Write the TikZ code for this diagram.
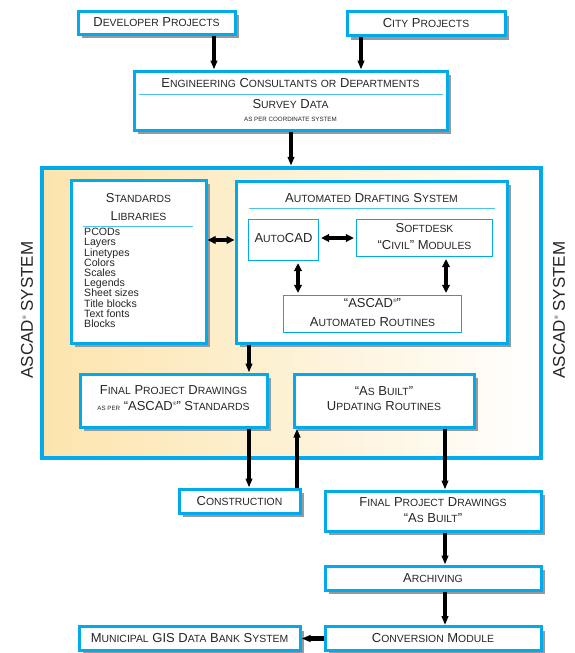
\documentclass[tikz,border=0pt]{standalone}
\usepackage{fontspec}
\setmainfont{Liberation Sans}
\usetikzlibrary{arrows.meta,shadows}
\definecolor{cy}{RGB}{0,170,235}
\definecolor{tanfill}{RGB}{252,228,172}
\newcommand\C[2]{#1{\fontsize{10.4}{12}\selectfont\uppercase{#2}}}
\newcommand\T[1]{{\fontsize{6.2}{8}\selectfont\uppercase{#1}}}
\newcommand\reg{\raisebox{0.75ex}{\fontsize{5}{5}\selectfont ®}}
\tikzset{
  box/.style={draw=cy, line width=3pt, fill=white, inner sep=0pt,
    drop shadow={shadow xshift=4pt, shadow yshift=-4pt, fill=black!40, opacity=1}},
  thinbox/.style={draw=cy, line width=1.2pt, fill=white, inner sep=0pt},
  txt/.style={align=center, inner sep=0pt, text=black!85, font=\fontsize{13}{16}\selectfont},
  arr/.style={line width=4.5pt, -{Triangle[length=9pt,width=6.5pt]}},
  darr/.style={line width=3.5pt, {Triangle[length=8pt,width=7.5pt]}-{Triangle[length=8pt,width=7.5pt]}},
  divider/.style={draw=cy!70, line width=1pt}
}
\begin{document}
\begin{tikzpicture}[x=1pt,y=-1pt]
\useasboundingbox (0,0) rectangle (575,653);
% big ASCAD system frame
\node[draw=cy, line width=4.5pt, left color=tanfill, right color=white, minimum width=499pt, minimum height=290pt, inner sep=0pt] (big) at (291.5,313) {};
\node[txt, rotate=90, font=\fontsize{17}{20}\selectfont] (lsys) at (27,310) {ASCAD\reg{} SYSTEM};
\node[txt, rotate=90, font=\fontsize{17}{20}\selectfont] (rsys) at (559,310) {ASCAD\reg{} SYSTEM};

% top boxes
\node[box, minimum width=157pt, minimum height=23pt] (dev) at (156.5,22.5) {};
\node[txt] (devt) at (dev) {\C{D}{eveloper} \C{P}{rojects}};
\node[box, minimum width=158pt, minimum height=24pt] (city) at (426,23.5) {};
\node[txt] (cityt) at (city) {\C{C}{ity} \C{P}{rojects}};

\node[box, minimum width=313pt, minimum height=59pt] (eng) at (290.5,100.5) {};
\node[txt] (engt1) at (290.5,83) {\C{E}{ngineering} \C{C}{onsultants} \C{}{or} \C{D}{epartments}};
\coordinate (engdl) at (139,94);
\coordinate (engdr) at (443,94);
\draw[divider] (engdl) -- (engdr);
\node[txt] (engt2) at (290.5,104) {\C{S}{urvey} \C{D}{ata}};
\node[txt] (engt3) at (290.5,119) {\T{as per coordinate system}};

% standards libraries
\node[box, minimum width=135pt, minimum height=163pt] (std) at (138.5,261.5) {};
\node[txt, font=\fontsize{13}{18}\selectfont] (stdt) at (138.5,207) {\C{S}{tandards}\\\C{L}{ibraries}};
\coordinate (stddl) at (83,226);
\coordinate (stddr) at (193,226);
\draw[divider] (stddl) -- (stddr);
\node[txt, align=left, anchor=north west, font=\fontsize{10.6}{10.2}\selectfont] (stdlist) at (84,228)
  {PCODs\\Layers\\Linetypes\\Colors\\Scales\\Legends\\Sheet sizes\\Title blocks\\Text fonts\\Blocks};

% automated drafting system
\node[box, minimum width=271pt, minimum height=162pt] (ads) at (371.5,262) {};
\node[txt] (adst) at (371.5,198) {\C{A}{utomated} \C{D}{rafting} \C{S}{ystem}};
\coordinate (adsdl) at (249,208);
\coordinate (adsdr) at (495,208);
\draw[divider] (adsdl) -- (adsdr);
\node[thinbox, minimum width=70pt, minimum height=41pt] (acad) at (283.5,240) {};
\node[txt] (acadt) at (283.5,238) {\C{A}{uto}CAD};
\node[thinbox, minimum width=136pt, minimum height=37pt] (soft) at (424.5,238) {};
\node[txt, font=\fontsize{13}{17}\selectfont] (softt) at (424.5,236.5) {\C{S}{oftdesk}\\“\C{C}{ivil}” \C{M}{odules}};
\node[thinbox, minimum width=178pt, minimum height=37pt] (rout) at (372.5,314) {};
\node[txt, font=\fontsize{13}{19}\selectfont] (routt) at (372.5,312.5) {“ASCAD\reg”\\\C{A}{utomated} \C{R}{outines}};

% final project drawings / as built
\node[box, minimum width=187pt, minimum height=53pt] (fin) at (173.5,400.5) {};
\node[txt] (fint) at (173.5,398) {\C{F}{inal} \C{P}{roject} \C{D}{rawings}\\\T{as per} “ASCAD\reg” \C{S}{tandards}};
\node[box, minimum width=180pt, minimum height=53pt] (asb) at (384,400.5) {};
\node[txt, font=\fontsize{13}{15.5}\selectfont] (asbt) at (384,398.5) {“\C{A}{s} \C{B}{uilt}”\\\C{U}{pdating} \C{R}{outines}};

% lower chain
\node[box, minimum width=121pt, minimum height=24pt] (cons) at (239.5,501) {};
\node[txt] (const) at (cons) {\C{C}{onstruction}};
\node[box, minimum width=216pt, minimum height=40pt] (fab) at (433,511) {};
\node[txt] (fabt) at (433,510) {\C{F}{inal} \C{P}{roject} \C{D}{rawings}\\“\C{A}{s} \C{B}{uilt}”};
\node[box, minimum width=216pt, minimum height=24pt] (arch) at (433,578) {};
\node[txt] (archt) at (arch) {\C{A}{rchiving}};
\node[box, minimum width=216pt, minimum height=24pt] (conv) at (433,638.5) {};
\node[txt] (convt) at (conv) {\C{C}{onversion} \C{M}{odule}};
\node[box, minimum width=221pt, minimum height=24pt] (muni) at (189.5,638.5) {};
\node[txt] (munit) at (muni) {\C{M}{unicipal} GIS \C{D}{ata} \C{B}{ank} \C{S}{ystem}};

% connector columns
\coordinate (xa) at (214,0);
\coordinate (xb) at (361,0);
\coordinate (xc) at (291,0);
\coordinate (xd) at (249,0);
\coordinate (xe) at (297,0);
\coordinate (xf) at (445,0);
\coordinate (xg) at (298,0);
\coordinate (xh) at (446,0);
\coordinate (ya) at (0,240);
\coordinate (yb) at (0,238);

\draw[arr] (dev.south -| xa) -- (eng.north -| xa);
\draw[arr] (city.south -| xb) -- (eng.north -| xb);
\draw[arr] (eng.south -| xc) -- (big.north -| xc);
\draw[darr] (std.east |- ya) -- (ads.west |- ya);
\draw[darr] ([xshift=2pt]acad.east |- yb) -- ([xshift=-2pt]soft.west |- yb);
\draw[darr] ([yshift=-2pt]acad.south -| xg) -- ([yshift=2pt]rout.north -| xg);
\draw[darr] ([yshift=-2pt]soft.south -| xh) -- ([yshift=2pt]rout.north -| xh);
\draw[arr] (ads.south -| xd) -- (fin.north -| xd);
\draw[arr] (fin.south -| xd) -- (cons.north -| xd);
\draw[arr] (cons.north -| xe) -- (asb.south -| xe);
\draw[arr] (asb.south -| xf) -- (fab.north -| xf);
\draw[arr] (fab.south -| xf) -- (arch.north -| xf);
\draw[arr] (arch.south -| xf) -- (conv.north -| xf);
\draw[arr] (conv.west) -- (muni.east);
\end{tikzpicture}
\end{document}
